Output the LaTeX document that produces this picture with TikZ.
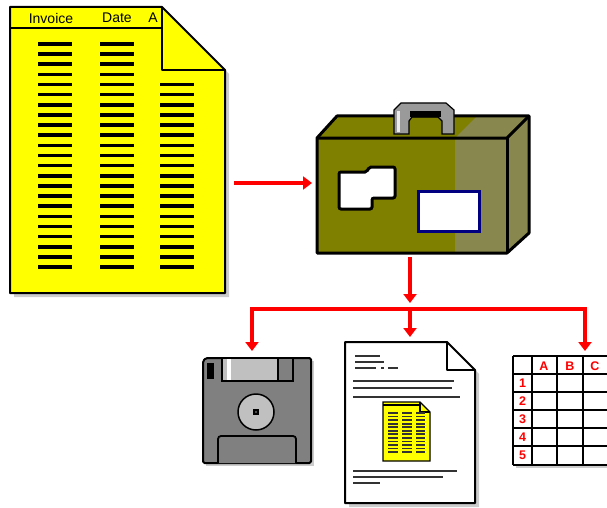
\documentclass[tikz,border=0pt]{standalone}
\usepackage{fontspec}
\setsansfont{Liberation Sans}
\usetikzlibrary{arrows.meta}
\definecolor{sheetyellow}{HTML}{FFFF00}
\definecolor{caseolive}{HTML}{808000}
\definecolor{casedither}{HTML}{88884E}
\definecolor{labelnavy}{HTML}{000080}
\definecolor{flowred}{HTML}{FF0000}
\definecolor{diskgray}{HTML}{808080}
\definecolor{disklight}{HTML}{C0C0C0}
\definecolor{handlegray}{HTML}{9A9A9A}
\tikzset{
  flow/.style={draw=flowred,line width=3.2pt,-{Triangle[width=13pt,length=9pt,fill=flowred]}},
  dropshade/.style={fill=black!20,draw=none},
  ruling/.style={line width=3.6pt},
  textline/.style={draw=black!80,line width=2.2pt},
  outline/.style={draw=black,line width=2pt,line join=round},
  colhead/.style={font=\sffamily\fontsize{14}{14}\selectfont,inner sep=0pt},
  cellhead/.style={text=flowred,font=\sffamily\bfseries\fontsize{12.5}{12.5}\selectfont,inner sep=0pt},
}
\begin{document}
\begin{tikzpicture}[x=1pt,y=-1pt]
\path[use as bounding box,clip] (0,0) rectangle (607,508);

% invoice listing
\fill[dropshade,shift={(4,4)}] (10,7) -- (162,7) -- (225,70) -- (225,293) -- (10,293) -- cycle;
\draw[outline,fill=sheetyellow] (10,7) -- (162,7) -- (225,70) -- (225,293) -- (10,293) -- cycle;
\draw[outline] (162,7) -- (162,70) -- (225,70);
\draw[outline] (10,28) -- (162,28);
\node[colhead] (col-invoice) at (51,18) {Invoice};
\node[colhead] (col-date) at (117,18) {Date};
\node[colhead] (col-a) at (153,18) {A};
\foreach \r in {0,...,22} {
  \draw[ruling] (38,44+10.14*\r) -- (72,44+10.14*\r);
  \draw[ruling] (100,44+10.14*\r) -- (134,44+10.14*\r);
}
\foreach \r in {4,...,22} \draw[ruling] (160,44+10.14*\r) -- (194,44+10.14*\r);

% briefcase
\fill[caseolive] (317,138) -- (337,116) -- (529,116) -- (507,138) -- cycle;
\fill[casedither] (455,138) -- (477,116) -- (529,116) -- (507,138) -- cycle;
\fill[casedither] (507,138) -- (529,116) -- (529,233) -- (507,253) -- cycle;
\fill[caseolive] (317,138) rectangle (455,253);
\fill[casedither] (455,138) rectangle (507,253);
\draw[line width=3pt,line join=round] (317,138) -- (337,116) -- (529,116) -- (529,233) -- (507,253) -- (317,253) -- cycle;
\draw[line width=3pt,line join=round] (317,138) -- (507,138) -- (529,116);
\draw[line width=3pt] (507,138) -- (507,253);
\draw[line width=1.2pt,fill=handlegray] (394,134) -- (394,110) -- (401,103) -- (446,103) -- (454,110) -- (454,134) -- (442,134) -- (442,121) -- (438,117) -- (412,117) -- (409,121) -- (409,134) -- cycle;
\fill[black] (410,111) rectangle (441,117);
\fill[white!85!gray] (397,111) rectangle (400,132);
\draw[line width=3pt,fill=white,rounded corners=2pt] (339,172) -- (367,172) -- (369,167) -- (395,167) -- (395,198) -- (372,198) -- (372,209) -- (339,209) -- cycle;
\draw[draw=labelnavy,fill=white,line width=3pt] (418,191) rectangle (479,231);

% floppy disk
\fill[dropshade,shift={(3,3)}] (203,358) rectangle (311,463);
\draw[outline,fill=diskgray,rounded corners=1.5pt] (206,358) -- (311,358) -- (311,463) -- (203,463) -- (203,361) -- cycle;
\draw[line width=1.2pt,fill=disklight] (222,358) rectangle (278,381);
\fill[white] (227,359) rectangle (231,380);
\draw[line width=1.2pt,fill=diskgray] (278,358) rectangle (293,381);
\fill[black] (207,363) rectangle (214,379);
\draw[line width=1.5pt,fill=disklight] (256,412) circle (18);
\draw[line width=1.2pt,fill=black!70] (254,410) rectangle (258,414);
\draw[line width=1.8pt,fill=diskgray,rounded corners=3pt] (218,463) -- (218,436) -- (296,436) -- (296,463);

% report page
\fill[dropshade,shift={(4,4)}] (345,342) -- (447,342) -- (475,370) -- (475,503) -- (345,503) -- cycle;
\draw[outline,fill=white] (345,342) -- (447,342) -- (475,370) -- (475,503) -- (345,503) -- cycle;
\draw[outline] (447,342) -- (447,370) -- (475,370);
\draw[textline] (355,356) -- (380,356);
\draw[textline] (355,362) -- (384,362);
\draw[textline] (355,368) -- (376,368);
\draw[textline] (381,368) -- (384,368);
\draw[textline] (388,368) -- (398,368);
\draw[textline] (353,381) -- (454,381);
\draw[textline] (353,388) -- (452,388);
\draw[textline] (353,397) -- (460,397);
\draw[line width=1.3pt,fill=sheetyellow] (383,402) -- (420,402) -- (430,412) -- (430,461) -- (383,461) -- cycle;
\draw[line width=1.3pt] (420,402) -- (420,412) -- (430,412);
\draw[line width=1.3pt] (383,405) -- (420,405);
\foreach \r in {0,...,11} {
  \draw[textline,line width=1.8pt] (388,413+3.55*\r) -- (398,413+3.55*\r);
  \draw[textline,line width=1.8pt] (402,413+3.55*\r) -- (412,413+3.55*\r);
  \draw[textline,line width=1.8pt] (416,413+3.55*\r) -- (425,413+3.55*\r);
}
\draw[textline] (353,471) -- (457,471);
\draw[textline] (353,477) -- (443,477);
\draw[textline] (353,483) -- (380,483);

% spreadsheet grid
\fill[dropshade,shift={(3,3)}] (513,356) rectangle (620,465);
\fill[white] (513,356) rectangle (620,465);
\foreach \y in {356,374,392,410,428,446,465} \draw[line width=1.8pt] (513,\y) -- (620,\y);
\foreach \x in {513,532,557,583,608} \draw[line width=1.8pt] (\x,356) -- (\x,465);
\foreach \x/\v in {544/A,570/B,595/C} \node[cellhead] (head-\v) at (\x,366) {\v};
\foreach \y/\v in {383/1,401/2,419/3,437/4,455/5} \node[cellhead] (row-\v) at (522.5,\y) {\v};

% data flow
\coordinate (sheet-out) at (234,183);
\coordinate (case-in) at (312,183);
\coordinate (case-out) at (410,257);
\coordinate (split) at (410,303);
\coordinate (bus-w) at (252,309);
\coordinate (bus-m) at (410,309);
\coordinate (bus-e) at (585,309);
\coordinate (disk-in) at (252,351);
\coordinate (page-in) at (410,337);
\coordinate (grid-in) at (585,351);
\draw[flow] (sheet-out) -- (case-in);
\draw[flow] (case-out) -- (split);
\draw[flowred,line width=3.2pt] ([xshift=-1.6pt]bus-w) -- ([xshift=1.6pt]bus-e);
\draw[flow] (bus-w) -- (disk-in);
\draw[flow] (bus-m) -- (page-in);
\draw[flow] (bus-e) -- (grid-in);
\end{tikzpicture}
\end{document}
